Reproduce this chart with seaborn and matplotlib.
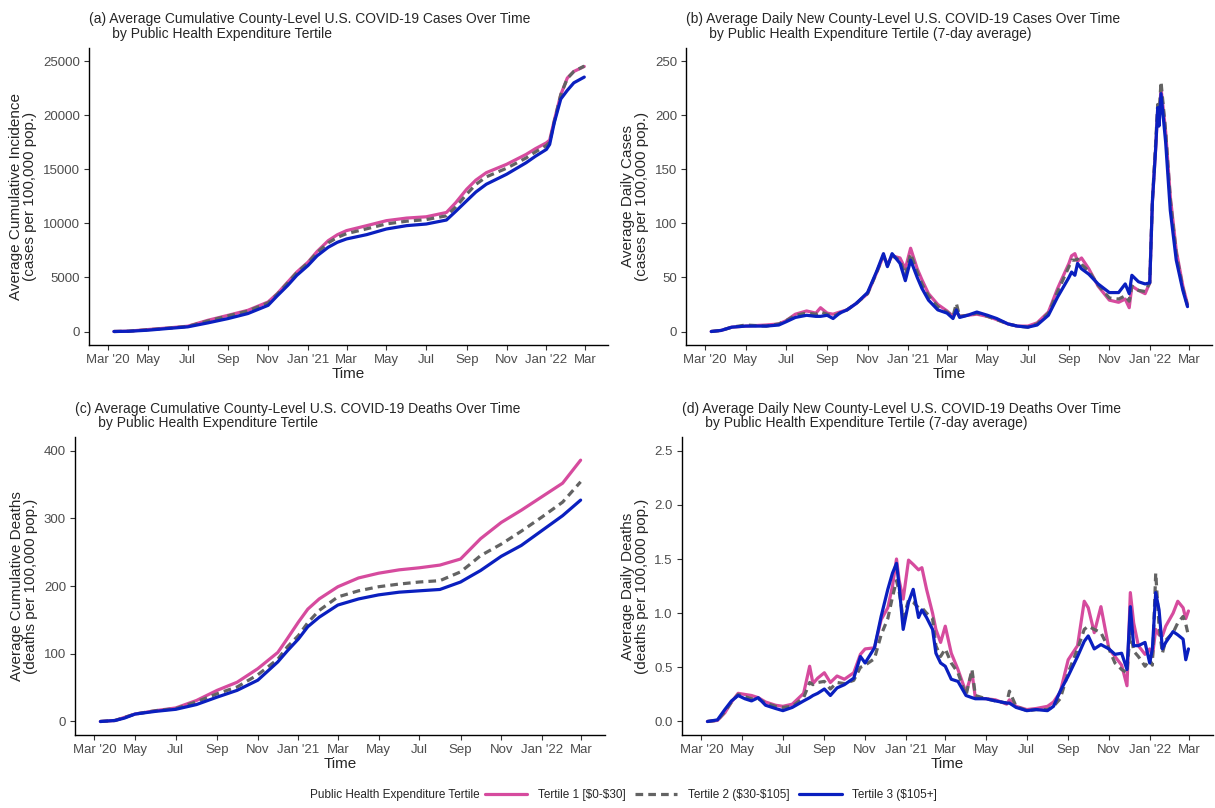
import matplotlib
matplotlib.use("Agg")
import matplotlib.pyplot as plt
from matplotlib.lines import Line2D
import numpy as np
import pandas as pd
import seaborn as sns

# ---------------- data ----------------
tertiles = ["Tertile 1 [\\$0-\\$30]", "Tertile 2 (\\$30-\\$105]", "Tertile 3 (\\$105+]"]
colors = ["#D64B9E", "#636363", "#0A1FBF"]

tick_dates = ["2020-03-01", "2020-05-01", "2020-07-01", "2020-09-01", "2020-11-01",
              "2021-01-01", "2021-03-01", "2021-05-01", "2021-07-01", "2021-09-01",
              "2021-11-01", "2022-01-01", "2022-03-01"]
tick_labels = ["Mar '20", "May", "Jul", "Sep", "Nov", "Jan '21", "Mar", "May", "Jul",
               "Sep", "Nov", "Jan '22", "Mar"]

# (a) cumulative cases
a_dates = ["2020-03-10", "2020-04-01", "2020-05-01", "2020-06-01", "2020-07-01", "2020-08-01",
           "2020-09-01", "2020-10-01", "2020-11-01", "2020-11-15", "2020-12-01", "2020-12-15",
           "2021-01-01", "2021-01-15", "2021-02-01", "2021-02-15", "2021-03-01", "2021-04-01",
           "2021-05-01", "2021-06-01", "2021-07-01", "2021-08-01", "2021-08-15", "2021-09-01",
           "2021-09-15", "2021-10-01", "2021-11-01", "2021-12-01", "2021-12-15", "2022-01-01",
           "2022-01-06", "2022-01-13", "2022-01-23", "2022-02-02", "2022-02-12", "2022-02-28"]
a_t1 = [0, 30, 180, 330, 490, 1040, 1500, 1960, 2730, 3500, 4570, 5500, 6410, 7400, 8400, 8950,
        9330, 9790, 10250, 10490, 10610, 11010, 11900, 13160, 14000, 14690, 15460, 16380, 16900,
        17450, 17700, 19500, 21900, 23440, 24050, 24510]
a_t2 = [0, 25, 160, 310, 470, 980, 1450, 1900, 2650, 3450, 4500, 5450, 6350, 7300, 8200, 8700,
        9050, 9500, 9950, 10200, 10350, 10700, 11500, 12700, 13600, 14300, 15100, 16050, 16600,
        17200, 17500, 19400, 21900, 23400, 24050, 24550]
a_t3 = [0, 20, 120, 280, 430, 800, 1200, 1660, 2420, 3300, 4260, 5200, 6100, 7000, 7790, 8250,
        8560, 8960, 9480, 9790, 9940, 10310, 11100, 12090, 12900, 13620, 14540, 15610, 16200,
        16840, 17300, 19300, 21500, 22300, 23000, 23530]

# (b) daily new cases (7-day average)
b_dates = ["2020-03-10", "2020-03-25", "2020-04-10", "2020-05-01", "2020-06-01", "2020-06-20",
           "2020-07-01", "2020-07-15", "2020-08-01", "2020-08-15", "2020-08-22", "2020-09-01",
           "2020-09-10", "2020-09-20", "2020-10-01", "2020-10-15", "2020-11-01", "2020-11-15",
           "2020-11-25", "2020-12-01", "2020-12-08", "2020-12-20", "2020-12-28", "2021-01-05",
           "2021-01-15", "2021-01-22", "2021-02-01", "2021-02-15", "2021-03-01", "2021-03-10",
           "2021-03-15", "2021-03-20", "2021-04-01", "2021-04-15", "2021-05-01", "2021-05-15",
           "2021-06-01", "2021-06-15", "2021-07-01", "2021-07-15", "2021-08-01", "2021-08-15",
           "2021-09-01", "2021-09-05", "2021-09-10", "2021-09-14", "2021-09-20", "2021-10-01",
           "2021-10-15", "2021-11-01", "2021-11-15", "2021-11-25", "2021-12-01", "2021-12-05",
           "2021-12-15", "2021-12-25", "2022-01-01", "2022-01-05", "2022-01-10", "2022-01-13",
           "2022-01-15", "2022-01-18", "2022-01-25", "2022-02-01", "2022-02-10", "2022-02-20",
           "2022-02-27"]
b_t1 = [0, 1, 4, 5, 6, 7, 10, 16, 19, 17, 22, 17, 16, 18, 20, 26, 35, 55, 70, 62, 70, 68, 58, 77,
        58, 48, 35, 25, 19, 14, 18, 14, 15, 16, 14, 11, 7, 5, 5, 8, 18, 40, 63, 70, 72, 65, 68, 58,
        42, 29, 27, 30, 22, 42, 38, 35, 45, 120, 170, 205, 195, 225, 185, 125, 75, 42, 25]
b_t2 = [0, 1, 4, 6, 5, 7, 10, 15, 17, 16, 18, 16, 14, 17, 20, 26, 35, 55, 70, 61, 70, 66, 52, 72,
        55, 44, 33, 23, 18, 14, 26, 14, 15, 17, 14, 11, 7, 5, 4, 7, 17, 37, 60, 66, 66, 67, 62, 56,
        43, 31, 30, 33, 28, 42, 38, 37, 45, 122, 175, 210, 200, 231, 185, 122, 72, 40, 24]
b_t3 = [0, 1, 4, 5, 5, 6, 9, 13, 15, 14, 14, 15, 12, 17, 20, 26, 36, 56, 72, 60, 72, 63, 47, 66,
        50, 40, 29, 20, 17, 12, 20, 13, 15, 18, 15, 12, 7, 5, 4, 6, 15, 32, 50, 55, 52, 63, 58, 53,
        44, 36, 36, 44, 35, 52, 46, 44, 45, 120, 170, 207, 190, 220, 175, 112, 66, 38, 23]

# (c) cumulative deaths
c_dates = ["2020-03-10", "2020-04-01", "2020-04-15", "2020-05-01", "2020-06-01", "2020-07-01",
           "2020-08-01", "2020-09-01", "2020-10-01", "2020-11-01", "2020-12-01", "2020-12-15",
           "2021-01-01", "2021-01-15", "2021-02-01", "2021-03-01", "2021-04-01", "2021-05-01",
           "2021-06-01", "2021-07-01", "2021-08-01", "2021-09-01", "2021-09-15", "2021-10-01",
           "2021-11-01", "2021-12-01", "2022-01-01", "2022-02-01", "2022-02-28"]
c_t1 = [0, 1.5, 6, 11, 16, 20, 31, 46, 58, 78, 102, 122, 147, 166, 181, 199, 212, 219, 224, 227,
        231, 240, 254, 270, 294, 312, 332, 352, 386]
c_t2 = [0, 1.5, 6, 11, 16, 19, 29, 41, 51, 69, 92, 110, 127, 146, 164, 184, 193, 199, 203, 206,
        208, 221, 232, 245, 262, 281, 302, 324, 354]
c_t3 = [0, 1.5, 5, 11, 15, 18, 25, 36, 46, 61, 88, 104, 122, 140, 154, 172, 181, 187, 191, 193,
        195, 206, 214, 223, 244, 260, 282, 304, 327]

# (d) daily new deaths (7-day average)
d_dates = ["2020-03-10", "2020-03-25", "2020-04-05", "2020-04-15", "2020-04-25", "2020-05-05",
           "2020-05-15", "2020-05-25", "2020-06-05", "2020-06-20", "2020-07-01", "2020-07-15",
           "2020-08-01", "2020-08-10", "2020-08-15", "2020-08-22", "2020-09-01", "2020-09-10",
           "2020-09-20", "2020-10-01", "2020-10-15", "2020-10-25", "2020-11-01", "2020-11-15",
           "2020-11-25", "2020-12-05", "2020-12-12", "2020-12-18", "2020-12-22", "2020-12-28",
           "2021-01-05", "2021-01-12", "2021-01-20", "2021-01-25", "2021-02-01", "2021-02-10",
           "2021-02-15", "2021-02-22", "2021-03-01", "2021-03-10", "2021-03-20", "2021-04-01",
           "2021-04-10", "2021-04-15", "2021-05-01", "2021-05-15", "2021-06-01", "2021-06-05",
           "2021-06-15", "2021-07-01", "2021-07-15", "2021-08-01", "2021-08-10", "2021-08-20",
           "2021-09-01", "2021-09-15", "2021-09-25", "2021-10-01", "2021-10-10", "2021-10-20",
           "2021-11-01", "2021-11-10", "2021-11-20", "2021-11-28", "2021-12-03", "2021-12-08",
           "2021-12-15", "2021-12-25", "2022-01-01", "2022-01-05", "2022-01-10", "2022-01-15",
           "2022-01-20", "2022-01-25", "2022-02-05", "2022-02-12", "2022-02-20", "2022-02-24",
           "2022-02-28"]
d_t1 = [0, 0.01, 0.08, 0.18, 0.26, 0.25, 0.24, 0.22, 0.18, 0.15, 0.14, 0.16, 0.26, 0.51, 0.35,
        0.40, 0.45, 0.36, 0.42, 0.39, 0.45, 0.62, 0.67, 0.68, 0.94, 1.05, 1.25, 1.50, 1.30, 1.13,
        1.49, 1.45, 1.40, 1.42, 1.22, 1.00, 0.85, 0.73, 0.88, 0.63, 0.48, 0.27, 0.45, 0.22, 0.21,
        0.20, 0.16, 0.20, 0.14, 0.11, 0.12, 0.14, 0.18, 0.27, 0.57, 0.70, 1.11, 1.05, 0.82, 1.06,
        0.67, 0.60, 0.52, 0.33, 1.19, 0.91, 0.70, 0.62, 0.67, 0.60, 0.85, 0.80, 0.79, 0.88, 1.00,
        1.11, 1.05, 0.95, 1.02]
d_t2 = [0, 0.01, 0.09, 0.18, 0.25, 0.23, 0.21, 0.21, 0.17, 0.14, 0.13, 0.14, 0.22, 0.36, 0.34,
        0.36, 0.37, 0.30, 0.36, 0.35, 0.38, 0.50, 0.52, 0.58, 0.80, 0.95, 1.15, 1.30, 1.20, 0.95,
        1.12, 1.10, 1.05, 1.05, 1.00, 0.95, 0.70, 0.60, 0.67, 0.54, 0.45, 0.24, 0.48, 0.24, 0.21,
        0.19, 0.17, 0.28, 0.14, 0.10, 0.11, 0.11, 0.14, 0.21, 0.45, 0.67, 0.85, 0.88, 0.85, 0.82,
        0.67, 0.54, 0.48, 0.45, 0.85, 0.65, 0.60, 0.51, 0.57, 0.52, 1.37, 0.88, 0.63, 0.75, 0.82,
        0.91, 0.97, 0.90, 0.79]
d_t3 = [0, 0.015, 0.11, 0.19, 0.24, 0.21, 0.19, 0.22, 0.15, 0.12, 0.10, 0.13, 0.19, 0.22, 0.24,
        0.26, 0.30, 0.24, 0.31, 0.34, 0.40, 0.60, 0.54, 0.68, 0.97, 1.22, 1.37, 1.46, 1.25, 0.85,
        1.10, 1.22, 0.96, 1.03, 0.96, 0.85, 0.63, 0.54, 0.51, 0.39, 0.37, 0.24, 0.22, 0.21, 0.21,
        0.19, 0.17, 0.17, 0.13, 0.10, 0.11, 0.10, 0.14, 0.28, 0.42, 0.60, 0.74, 0.79, 0.67, 0.71,
        0.67, 0.62, 0.63, 0.48, 1.06, 0.70, 0.70, 0.73, 0.54, 0.67, 1.19, 1.03, 0.67, 0.73, 0.83,
        0.80, 0.76, 0.57, 0.67]

titles = [
    "(a) Average Cumulative County-Level U.S. COVID-19 Cases Over Time\n      by Public Health Expenditure Tertile",
    "(b) Average Daily New County-Level U.S. COVID-19 Cases Over Time\n      by Public Health Expenditure Tertile (7-day average)",
    "(c) Average Cumulative County-Level U.S. COVID-19 Deaths Over Time\n      by Public Health Expenditure Tertile",
    "(d) Average Daily New County-Level U.S. COVID-19 Deaths Over Time\n      by Public Health Expenditure Tertile (7-day average)",
]
ylabels = [
    "Average Cumulative Incidence\n(cases per 100,000 pop.)",
    "Average Daily Cases\n(cases per 100,000 pop.)",
    "Average Cumulative Deaths\n(deaths per 100,000 pop.)",
    "Average Daily Deaths\n(deaths per 100,000 pop.)",
]
yticks = [[0, 5000, 10000, 15000, 20000, 25000],
          [0, 50, 100, 150, 200, 250],
          [0, 100, 200, 300, 400],
          [0.0, 0.5, 1.0, 1.5, 2.0, 2.5]]
ytick_fmt = ["{:.0f}", "{:.0f}", "{:.0f}", "{:.1f}"]
ylims = [(-1250, 26250), (-12.5, 262.5), (-20, 420), (-0.125, 2.625)]

# ---------------- style ----------------
sns.set_style("ticks")
plt.rcParams["font.family"] = ["Liberation Sans", "DejaVu Sans"]
plt.rcParams["axes.linewidth"] = 1.0

fig = plt.figure(figsize=(12.15, 8.08), dpi=100)
positions = [[0.0733, 0.573, 0.427, 0.368],
             [0.5646, 0.573, 0.433, 0.368],
             [0.0617, 0.0903, 0.436, 0.3687],
             [0.5613, 0.0903, 0.4367, 0.3687]]

panels = [(a_dates, [a_t1, a_t2, a_t3]),
          (b_dates, [b_t1, b_t2, b_t3]),
          (c_dates, [c_t1, c_t2, c_t3]),
          (d_dates, [d_t1, d_t2, d_t3])]

xmin = pd.Timestamp("2020-03-08")
xmax = pd.Timestamp("2022-02-28")
span = xmax - xmin
xlim = (xmin - span * 0.05, xmax + span * 0.05)

palette = dict(zip(tertiles, colors))
dashes = {tertiles[0]: "", tertiles[1]: (2.4, 1.6), tertiles[2]: ""}

for i, (dates, series) in enumerate(panels):
    ax = fig.add_axes(positions[i])
    frames = []
    for name, vals in zip(tertiles, series):
        frames.append(pd.DataFrame({"date": pd.to_datetime(dates), "value": vals, "tertile": name}))
    df = pd.concat(frames, ignore_index=True)
    sns.lineplot(data=df, x="date", y="value", hue="tertile", style="tertile",
                 hue_order=tertiles, style_order=tertiles, palette=palette, dashes=dashes,
                 linewidth=2.3, ax=ax, legend=False, estimator=None)
    ax.set_xlim(xlim)
    ax.set_ylim(ylims[i])
    ax.set_xticks(pd.to_datetime(tick_dates))
    ax.set_xticklabels(tick_labels)
    ax.set_yticks(yticks[i])
    ax.set_yticklabels([ytick_fmt[i].format(v) for v in yticks[i]])
    ax.tick_params(axis="both", labelsize=9.5, length=3.5, width=0.8,
                   labelcolor="#4D4D4D", color="#333333", pad=3)
    ax.set_xlabel("Time", fontsize=11, labelpad=1)
    ax.set_ylabel(ylabels[i], fontsize=11, labelpad=4, linespacing=1.0)
    ax.set_title(titles[i], loc="left", fontsize=10, pad=7, linespacing=1.05)
    sns.despine(ax=ax)
    for sp in ["left", "bottom"]:
        ax.spines[sp].set_color("black")
        ax.spines[sp].set_linewidth(1.0)

# ---------------- legend ----------------
handles = [Line2D([], [], color=colors[0], lw=2.3),
           Line2D([], [], color=colors[1], lw=2.3, dashes=(2.4, 1.6)),
           Line2D([], [], color=colors[2], lw=2.3)]
fig.legend(handles, tertiles, loc="center left", bbox_to_anchor=(0.395, 0.016), ncol=3,
           frameon=False, fontsize=8.5, handlelength=3.6, columnspacing=0.8, handletextpad=0.9,
           borderaxespad=0)
fig.text(0.395, 0.016, "Public Health Expenditure Tertile", ha="right", va="center", fontsize=8.5)

fig.savefig("out.png", dpi=100)
